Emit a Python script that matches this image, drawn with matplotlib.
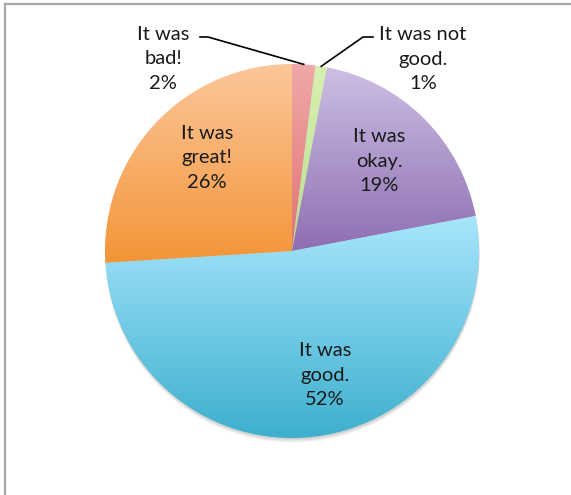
import numpy as np
import matplotlib
matplotlib.use("Agg")
import matplotlib.pyplot as plt
from matplotlib.colors import to_rgb
from matplotlib.patches import Circle
from matplotlib.lines import Line2D

# Datos (orden horario desde las 12)
respuestas = ["It was\nbad!", "It was not\ngood.", "It was\nokay.", "It was\ngood.", "It was\ngreat!"]
porcentajes = [2, 1, 19, 52, 26]

# Colores del degradado (arriba, abajo)
color_arriba = ["#f0a8a8", "#d8f0b0", "#cdbfe4", "#a8e6fc", "#fcc79a"]
color_abajo = ["#e07272", "#b8e090", "#8e6fb2", "#3db0ce", "#f39538"]

# Posiciones de las etiquetas (pixeles, y hacia arriba)
pos_etiquetas = [(163, 436), (423, 436), (379, 334), (325, 120), (207, 337)]

W, H = 571, 495
centro = (292, 244)
radio = 187

fig = plt.figure(figsize=(W / 100, H / 100), dpi=100)
ax = fig.add_axes([0, 0, 1, 1])

# Sombra suave bajo el circulo
for i in range(5):
    ax.add_patch(Circle((centro[0] + 0.5, centro[1] - 1.0 - i * 0.9), radio,
                        color="black", alpha=0.04, lw=0, zorder=0))

cunas, _ = ax.pie(porcentajes, center=centro, radius=radio, startangle=90,
                  counterclock=False, wedgeprops=dict(linewidth=0))

for i, w in enumerate(cunas):
    w.set_facecolor("none")
    bb = w.get_path().get_extents()
    c1 = np.array(to_rgb(color_abajo[i]))
    c2 = np.array(to_rgb(color_arriba[i]))
    t = np.linspace(0, 1, 256)[:, None]
    grad = (c1 + (c2 - c1) * t)[:, None, :]
    im = ax.imshow(grad, extent=[bb.x0, bb.x1, bb.y0, bb.y1], origin="lower",
                   aspect="auto", interpolation="bilinear", zorder=1)
    im.set_clip_path(w)

# Etiquetas
for i, (txt, p) in enumerate(zip(respuestas, porcentajes)):
    x, y = pos_etiquetas[i]
    ax.text(x, y, f"{txt}\n{p}%", ha="center", va="center", fontsize=14.5,
            family="Lato", color="#1a1a1a", linespacing=1.55, zorder=3)

# Lineas guia para las porciones pequenas
def punto_borde(w):
    ang = np.deg2rad((w.theta1 + w.theta2) / 2)
    return centro[0] + radio * np.cos(ang), centro[1] + radio * np.sin(ang)

xb, yb = punto_borde(cunas[0])
ax.plot([200, 208, xb], [458, 458, yb], color="black", lw=1.2, zorder=3)
xn, yn = punto_borde(cunas[1])
ax.plot([373, 363, xn], [458, 458, yn], color="black", lw=1.2, zorder=3)

ax.set_xlim(0, W)
ax.set_ylim(0, H)
ax.set_aspect("equal")
ax.axis("off")

# Marco gris (arriba e izquierda)
fig.add_artist(Line2D([4.5 / W, 1], [1 - 3.5 / H, 1 - 3.5 / H], color="#a8a8a8", lw=1.6))
fig.add_artist(Line2D([4.5 / W, 4.5 / W], [0, 1 - 3.5 / H], color="#a8a8a8", lw=1.6))

plt.savefig("out.png", dpi=100)
